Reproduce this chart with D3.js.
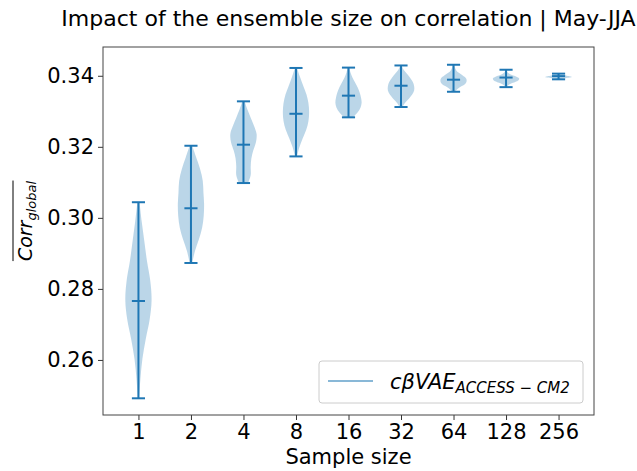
<!DOCTYPE html>
<html>
<head>
<meta charset="utf-8">
<script src="https://cdn.jsdelivr.net/npm/d3@7"></script>
<style>
  body { margin: 0; background: #fff; }
  text { font-family: "DejaVu Sans", sans-serif; fill: #000; }
</style>
</head>
<body>
<div id="chart"></div>
<script>
"use strict";

// sample sizes on x axis
var sizes = ["1", "2", "4", "8", "16", "32", "64", "128", "256"];
// min / median / max of each violin
var mins    = [0.2492, 0.2873, 0.3098, 0.3173, 0.3283, 0.3312, 0.3355, 0.3368, 0.3390];
var medians = [0.2766, 0.3027, 0.3206, 0.3293, 0.3344, 0.3372, 0.3389, 0.3395, 0.3399];
var maxs    = [0.3044, 0.3203, 0.3328, 0.3422, 0.3423, 0.3429, 0.3431, 0.3417, 0.3406];
// relative density, from min (first) to max (last)
var dens = [
  [0.05, 0.15, 0.30, 0.55, 0.85, 1.00, 0.90, 0.65, 0.45, 0.25, 0.08],
  [0.10, 0.30, 0.60, 0.85, 0.97, 1.00, 0.95, 0.90, 0.70, 0.40, 0.10],
  [0.35, 0.55, 0.55, 0.60, 0.75, 0.95, 1.00, 0.80, 0.55, 0.30, 0.08],
  [0.08, 0.25, 0.50, 0.78, 0.95, 1.00, 0.95, 0.80, 0.55, 0.30, 0.08],
  [0.35, 0.70, 0.92, 1.00, 0.95, 0.85, 0.70, 0.50, 0.30, 0.15, 0.05],
  [0.10, 0.30, 0.60, 0.85, 1.00, 1.00, 0.90, 0.70, 0.45, 0.20, 0.05],
  [0.10, 0.30, 0.60, 0.90, 1.00, 0.95, 0.70, 0.40, 0.20, 0.10, 0.05],
  [0.05, 0.15, 0.35, 0.70, 0.95, 1.00, 0.80, 0.45, 0.20, 0.08, 0.03],
  [0.05, 0.20, 0.50, 0.85, 1.00, 0.95, 0.70, 0.40, 0.15, 0.05, 0.02]
];
var yTicks = [0.26, 0.28, 0.30, 0.32, 0.34];

var w = 637, h = 471,
    pLeft = 103, pRight = 594, pTop = 47, pBottom = 415,
    blue = "#1f77b4";

var svg = d3.select("#chart").append("svg")
  .attr("width", w)
  .attr("height", h);

var x = d3.scaleLinear().domain([0.325, 9.675]).range([pLeft, pRight]);
var y = d3.scaleLinear().domain([0.2445, 0.3481]).range([pBottom, pTop]);

// violins
var area = d3.area()
  .curve(d3.curveCatmullRom)
  .y(function(d) { return y(d.v); })
  .x0(function(d) { return x(d.pos - 0.25 * d.d); })
  .x1(function(d) { return x(d.pos + 0.25 * d.d); });

sizes.forEach(function(s, i) {
  var pos = i + 1;
  var n = dens[i].length;
  var pts = dens[i].map(function(d, k) {
    return { pos: pos, d: d, v: mins[i] + (maxs[i] - mins[i]) * k / (n - 1) };
  });
  svg.append("path")
    .attr("d", area(pts))
    .attr("fill", blue)
    .attr("fill-opacity", 0.3);

  var g = svg.append("g").attr("stroke", blue).attr("stroke-width", 2);
  g.append("line")
    .attr("x1", x(pos)).attr("x2", x(pos))
    .attr("y1", y(mins[i])).attr("y2", y(maxs[i]));
  [mins[i], medians[i], maxs[i]].forEach(function(v) {
    g.append("line")
      .attr("x1", x(pos - 0.125)).attr("x2", x(pos + 0.125))
      .attr("y1", y(v)).attr("y2", y(v));
  });
});

// axes
var xAxis = d3.axisBottom(x)
  .tickValues(d3.range(1, sizes.length + 1))
  .tickFormat(function(d) { return sizes[d - 1]; })
  .tickSize(5).tickPadding(4);
var yAxis = d3.axisLeft(y)
  .tickValues(yTicks)
  .tickFormat(d3.format(".2f"))
  .tickSize(5).tickPadding(4);

svg.append("g").attr("transform", "translate(0," + pBottom + ")").call(xAxis);
svg.append("g").attr("transform", "translate(" + pLeft + ",0)").call(yAxis);
svg.selectAll(".domain").remove();
svg.selectAll(".tick line").attr("stroke", "#333");
svg.selectAll(".tick text")
  .attr("font-family", "DejaVu Sans")
  .attr("font-size", 21)
  .attr("fill", "#000");

svg.append("rect")
  .attr("x", pLeft).attr("y", pTop)
  .attr("width", pRight - pLeft).attr("height", pBottom - pTop)
  .attr("fill", "none")
  .attr("stroke", "#444")
  .attr("stroke-width", 1);

// title and labels
svg.append("text")
  .attr("x", (pLeft + pRight) / 2).attr("y", 26)
  .attr("text-anchor", "middle")
  .attr("font-size", 22)
  .text("Impact of the ensemble size on correlation | May-JJA");

svg.append("text")
  .attr("x", (pLeft + pRight) / 2).attr("y", 464)
  .attr("text-anchor", "middle")
  .attr("font-size", 21)
  .text("Sample size");

var yl = svg.append("g").attr("transform", "translate(32,221) rotate(-90)");
var ylt = yl.append("text")
  .attr("text-anchor", "middle")
  .attr("font-size", 19)
  .attr("font-style", "italic");
ylt.append("tspan").text("Corr");
ylt.append("tspan").attr("font-size", 13).attr("dy", 4).text("global");
var bb = ylt.node().getBBox();
yl.append("line")
  .attr("x1", bb.x).attr("x2", bb.x + bb.width)
  .attr("y1", -19).attr("y2", -19)
  .attr("stroke", "#000").attr("stroke-width", 1);

// legend
var lg = svg.append("g");
lg.append("rect")
  .attr("x", 319).attr("y", 361)
  .attr("width", 264).attr("height", 42)
  .attr("rx", 3)
  .attr("fill", "#fff")
  .attr("stroke", "#ccc");
lg.append("line")
  .attr("x1", 328).attr("x2", 373)
  .attr("y1", 381).attr("y2", 381)
  .attr("stroke", blue).attr("stroke-opacity", 0.7)
  .attr("stroke-width", 1.5);
var lt = lg.append("text")
  .attr("x", 390).attr("y", 389)
  .attr("font-size", 21)
  .attr("font-style", "italic");
lt.append("tspan").text("cβVAE");
lt.append("tspan").attr("font-size", 15).attr("dy", 4).text("ACCESS − CM2");
</script>
</body>
</html>
